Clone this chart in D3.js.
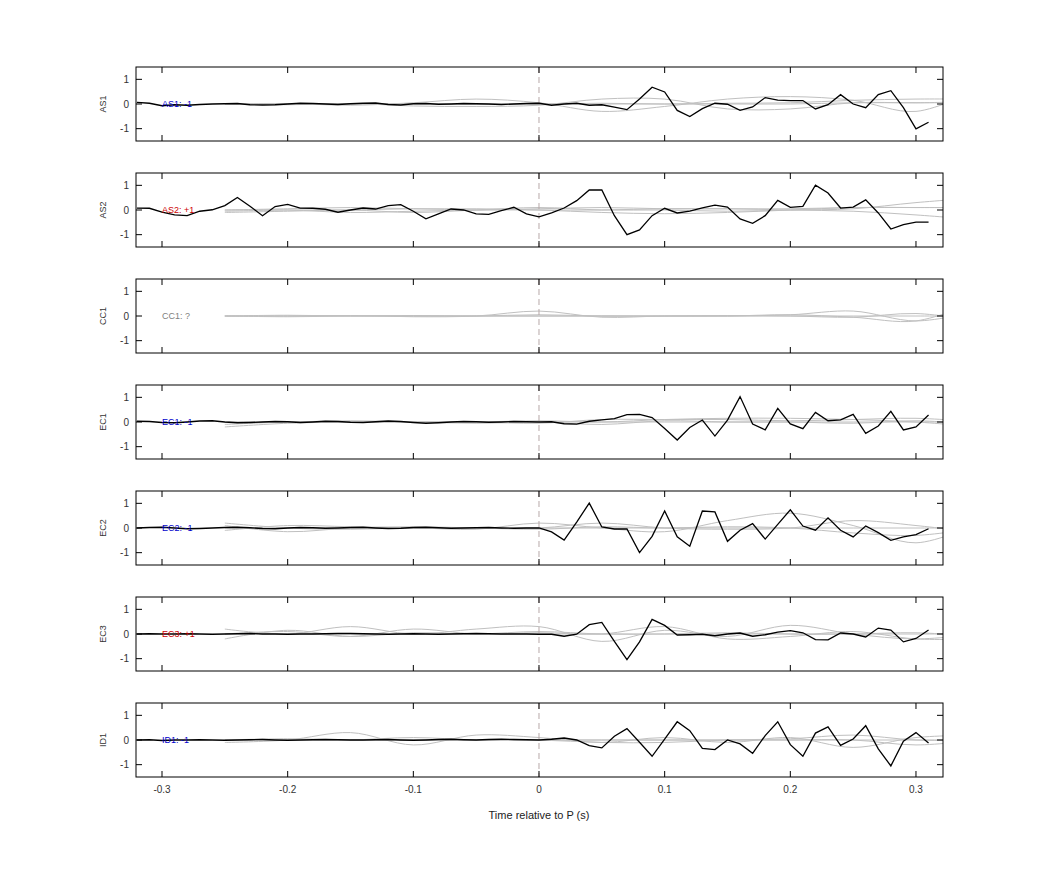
<!DOCTYPE html>
<html><head><meta charset="utf-8">
<script src="https://cdn.jsdelivr.net/npm/d3@7"></script>
<style>body{margin:0;background:#fff;font-family:"Liberation Sans",Arial,sans-serif}</style>
</head><body>
<svg id="c" width="1042" height="875"></svg>
<script>
const channels = ["AS1","AS2","CC1","EC1","EC2","EC3","ID1"];
const polarity = ["-1","+1","?","-1","-1","+1","-1"];
const xTicks = [-0.3,-0.2,-0.1,0,0.1,0.2,0.3];
const yTicks = [-1,0,1];
// black traces sampled every 0.01 s from -0.32 to 0.31
const blackTimes = d3.range(64).map(i => -0.32 + i*0.01);
const AS1 = [0.07,0.03,-0.07,-0.03,-0.05,-0.02,0.0,0.01,0.02,-0.03,-0.04,-0.03,0.0,0.03,0.02,0.0,-0.02,0.01,0.03,0.04,-0.02,-0.04,0.01,0.02,-0.01,0.0,0.02,0.01,0.0,-0.02,0.0,0.02,
  0.03,-0.05,0.0,0.03,-0.05,-0.03,-0.13,-0.23,0.2,0.68,0.49,-0.26,-0.51,-0.19,0.03,-0.01,-0.26,-0.12,0.26,0.16,0.14,0.14,-0.2,-0.03,0.38,0.0,-0.15,0.38,0.54,-0.15,-1.01,-0.74];
const AS2 = [0.08,0.07,-0.09,-0.2,-0.23,-0.05,0.01,0.18,0.51,0.15,-0.23,0.14,0.23,0.08,0.07,0.03,-0.09,0.0,0.08,0.04,0.18,0.22,-0.05,-0.36,-0.16,0.04,0.0,-0.16,-0.18,-0.03,0.11,-0.16,
  -0.28,-0.12,0.08,0.38,0.81,0.81,-0.23,-1.0,-0.81,-0.23,0.07,-0.12,-0.05,0.09,0.2,0.12,-0.36,-0.54,-0.23,0.39,0.11,0.15,1.01,0.69,0.08,0.12,0.41,-0.12,-0.77,-0.59,-0.49,-0.49];
const CC1 = null;
const EC1 = [0.03,0.02,-0.02,-0.03,0.0,0.04,0.05,0.0,-0.03,-0.02,0.0,0.02,0.01,-0.02,0.0,0.03,0.02,-0.01,-0.02,0.01,0.04,0.02,-0.02,-0.05,-0.03,0.0,0.02,0.01,-0.01,0.0,0.02,0.01,
  0.0,0.01,-0.07,-0.09,0.03,0.09,0.14,0.3,0.31,0.18,-0.26,-0.73,-0.22,0.08,-0.57,0.08,1.03,-0.08,-0.32,0.55,-0.08,-0.27,0.39,0.05,0.09,0.31,-0.46,-0.16,0.43,-0.32,-0.2,0.28];
const EC2 = [0.0,0.02,0.03,0.0,-0.03,-0.02,0.0,0.02,0.03,0.01,-0.02,-0.03,0.0,0.02,0.01,-0.01,0.0,0.02,0.03,0.0,-0.02,-0.01,0.02,0.03,0.01,-0.01,0.0,0.01,0.02,0.0,-0.01,0.0,
  0.0,-0.16,-0.49,0.24,1.01,0.04,-0.04,-0.04,-1.0,-0.34,0.69,-0.36,-0.74,0.69,0.65,-0.54,-0.09,0.18,-0.45,0.15,0.74,0.08,-0.09,0.41,-0.09,-0.36,0.08,-0.19,-0.5,-0.36,-0.27,-0.03];
const EC3 = [0.0,0.01,0.0,0.0,0.01,0.0,-0.01,0.0,0.01,0.02,0.0,0.0,-0.01,0.0,0.0,0.01,0.02,0.02,0.01,0.0,-0.01,0.0,0.01,0.0,-0.01,0.0,0.01,0.02,0.01,0.0,0.0,0.0,
  -0.01,-0.01,-0.09,-0.01,0.38,0.47,-0.3,-1.04,-0.32,0.59,0.35,-0.04,-0.03,-0.01,-0.07,0.0,0.04,-0.09,-0.03,0.08,0.14,0.05,-0.23,-0.24,0.04,0.0,-0.12,0.24,0.16,-0.32,-0.18,0.16];
const ID1 = [0.0,0.01,-0.02,0.0,0.0,0.01,0.0,-0.01,0.0,0.01,0.02,0.0,-0.01,0.0,0.01,0.02,0.01,0.0,0.0,0.01,0.02,0.0,-0.01,0.0,0.02,0.03,0.01,0.0,0.02,0.03,0.02,0.01,
  0.0,0.03,0.08,0.0,-0.23,-0.32,0.15,0.46,-0.09,-0.66,0.04,0.74,0.38,-0.34,-0.39,0.0,-0.16,-0.54,0.18,0.74,-0.19,-0.66,0.28,0.53,-0.22,0.04,0.58,-0.36,-1.05,-0.05,0.3,-0.12];
const blackSeries = [AS1,AS2,CC1,EC1,EC2,EC3,ID1];
// gray smooth traces, control values every 0.05 s from -0.25 to 0.35
const grayTimes = d3.range(13).map(i => -0.25 + i*0.05);
const graySeries = [
  [[0,0.02,-0.05,0.05,0.2,0.05,-0.3,-0.1,0.2,0.3,0.15,-0.3,0.6],
   [0,-0.03,0.02,-0.08,-0.1,-0.05,0.2,0.2,-0.2,-0.2,0.05,0.05,0.1],
   [0,0.0,0.0,0.02,-0.02,0.0,0.03,0.0,0.03,0.05,0.15,0.2,0.2],
   [0,0.0,0.0,0.0,0.0,0.0,0.0,0.0,0.0,0.0,0.05,0.05,0.05]],
  [[-0.1,-0.05,0.0,-0.1,0.0,0.1,0.0,0.0,-0.05,0.0,0.05,0.3,0.5],
   [0,0.05,0.1,0.05,0.05,0.0,-0.1,-0.15,-0.1,0.0,0.1,0.1,0.1],
   [-0.05,0.0,0.0,0.05,0.0,0.05,0.1,0.05,0.05,0.0,-0.05,-0.2,-0.4],
   [0,0.0,-0.1,-0.05,0.0,0.0,0.0,0.05,0.05,0.05,0.1,0.1,0.1]],
  [[0,0.03,0.0,0.0,0.0,0.05,0.0,0.0,0.0,0.05,-0.05,-0.2,0.6],
   [0,0.0,0.02,-0.03,0.0,0.2,-0.05,0.0,0.0,0.05,0.2,-0.2,0.2],
   [0,0.0,0.0,0.0,0.0,0.0,0.0,0.0,0.02,0.0,-0.05,0.1,-0.2],
   [0,-0.03,0.0,0.02,0.0,0.0,0.0,0.0,0.0,0.0,0.0,0.0,0.0]],
  [[-0.2,-0.05,0.0,0.0,0.0,0.05,0.0,0.1,0.15,0.15,0.1,0.0,-0.2],
   [0,0.0,0.0,0.0,0.0,-0.05,0.1,0.1,0.1,0.05,0.1,0.15,0.0],
   [0,0.0,0.05,0.0,-0.05,0.0,-0.1,0.05,0.0,0.0,-0.05,0.05,-0.1],
   [-0.1,0.0,0.0,0.0,0.0,0.0,0.0,0.0,0.0,0.0,0.0,0.0,0.0]],
  [[0.2,0.0,-0.05,0.0,-0.05,0.2,0.0,-0.15,0.3,0.6,0.1,-0.6,0.2],
   [-0.1,0.1,0.05,0.0,0.0,0.0,0.2,0.0,-0.05,0.0,0.3,0.1,-0.2],
   [0,0.0,0.0,0.0,0.0,0.0,0.0,0.0,0.0,0.0,0.0,0.0,0.0],
   [0.1,-0.15,0.0,0.05,0.0,-0.05,0.05,0.0,0.05,0.0,-0.2,-0.3,0.0]],
  [[0.2,0.0,0.3,0.0,0.2,0.3,-0.3,0.15,-0.1,0.35,0.0,-0.2,0.0],
   [0,0.1,-0.1,0.2,0.0,0.05,0.0,0.3,-0.2,-0.1,0.1,-0.2,-0.2],
   [-0.2,0.15,-0.1,0.05,0.0,0.1,0.0,0.0,0.05,0.0,0.0,0.05,-0.1],
   [0,0.0,0.0,0.0,0.0,0.0,0.0,0.0,0.0,0.0,0.0,0.0,0.0]],
  [[-0.1,0.0,0.3,-0.2,0.2,0.1,-0.1,0.1,-0.1,0.1,-0.3,0.1,0.2],
   [0,0.05,0.0,0.0,0.0,0.0,-0.1,-0.1,0.0,0.05,0.2,0.0,0.0],
   [0,0.0,0.0,0.1,0.0,0.0,0.0,0.0,0.0,0.0,0.0,-0.2,0.0],
   [0,0.0,0.0,0.0,0.0,0.0,0.0,0.0,0.0,0.0,0.0,0.0,0.0]]
];
const labelColor = {"-1":"#0000cc","+1":"#cc0000","?":"#808080"};

const svg = d3.select("#c");
const L=136, R=943, top0=67, step=106, H=74;
const x = d3.scaleLinear().domain([-0.3207,0.3215]).range([L,R]);
const y = d3.scaleLinear().domain([-1.5,1.5]).range([H,0]);
const line = d3.line().x(d=>x(d[0])).y(d=>y(d[1]));
const smooth = d3.line().x(d=>x(d[0])).y(d=>y(d[1])).curve(d3.curveCatmullRom);
svg.append("defs").append("clipPath").attr("id","clip").append("rect").attr("x",L).attr("y",0).attr("width",R-L).attr("height",H);

channels.forEach((ch,i)=>{
  const g = svg.append("g").attr("transform",`translate(0,${top0+i*step})`);
  const pl = g.append("g").attr("clip-path","url(#clip)");
  graySeries[i].forEach(s=>{
    pl.append("path").attr("d",smooth(grayTimes.map((t,k)=>[t,s[k]]))).attr("fill","none").attr("stroke","#c0c0c0").attr("stroke-width",1);
  });
  pl.append("line").attr("x1",x(0)).attr("x2",x(0)).attr("y1",0).attr("y2",H).attr("stroke","#b8a8a8").attr("stroke-dasharray","6,4");
  if(blackSeries[i]) pl.append("path").attr("d",line(blackTimes.map((t,k)=>[t,blackSeries[i][k]]))).attr("fill","none").attr("stroke","#000").attr("stroke-width",1.3);
  g.append("text").attr("x",x(-0.3)).attr("y",y(0)).attr("dy","0.35em").attr("font-size",9).attr("fill",labelColor[polarity[i]]).text(`${ch}: ${polarity[i]}`);
  g.append("rect").attr("x",L).attr("y",0).attr("width",R-L).attr("height",H).attr("fill","none").attr("stroke","#000").attr("stroke-width",1);
  xTicks.forEach(t=>{
    g.append("line").attr("x1",x(t)).attr("x2",x(t)).attr("y1",H).attr("y2",H-6).attr("stroke","#000");
    g.append("line").attr("x1",x(t)).attr("x2",x(t)).attr("y1",0).attr("y2",6).attr("stroke","#000");
  });
  yTicks.forEach(v=>{
    g.append("line").attr("x1",L).attr("x2",L+6).attr("y1",y(v)).attr("y2",y(v)).attr("stroke","#000");
    g.append("line").attr("x1",R).attr("x2",R-6).attr("y1",y(v)).attr("y2",y(v)).attr("stroke","#000");
    g.append("text").attr("x",L-7).attr("y",y(v)).attr("dy","0.35em").attr("text-anchor","end").attr("font-size",10).attr("fill","#333").text(v);
  });
  g.append("text").attr("transform",`translate(106,${y(0)}) rotate(-90)`).attr("text-anchor","middle").attr("font-size",9).attr("fill","#333").text(ch);
  if(i===channels.length-1){
    xTicks.forEach(t=>{
      g.append("text").attr("x",x(t)).attr("y",H+16).attr("text-anchor","middle").attr("font-size",10).attr("fill","#333").text(t);
    });
    g.append("text").attr("x",x(0)).attr("y",H+42).attr("text-anchor","middle").attr("font-size",11).attr("fill","#222").text("Time relative to P (s)");
  }
});
</script>
</body></html>
